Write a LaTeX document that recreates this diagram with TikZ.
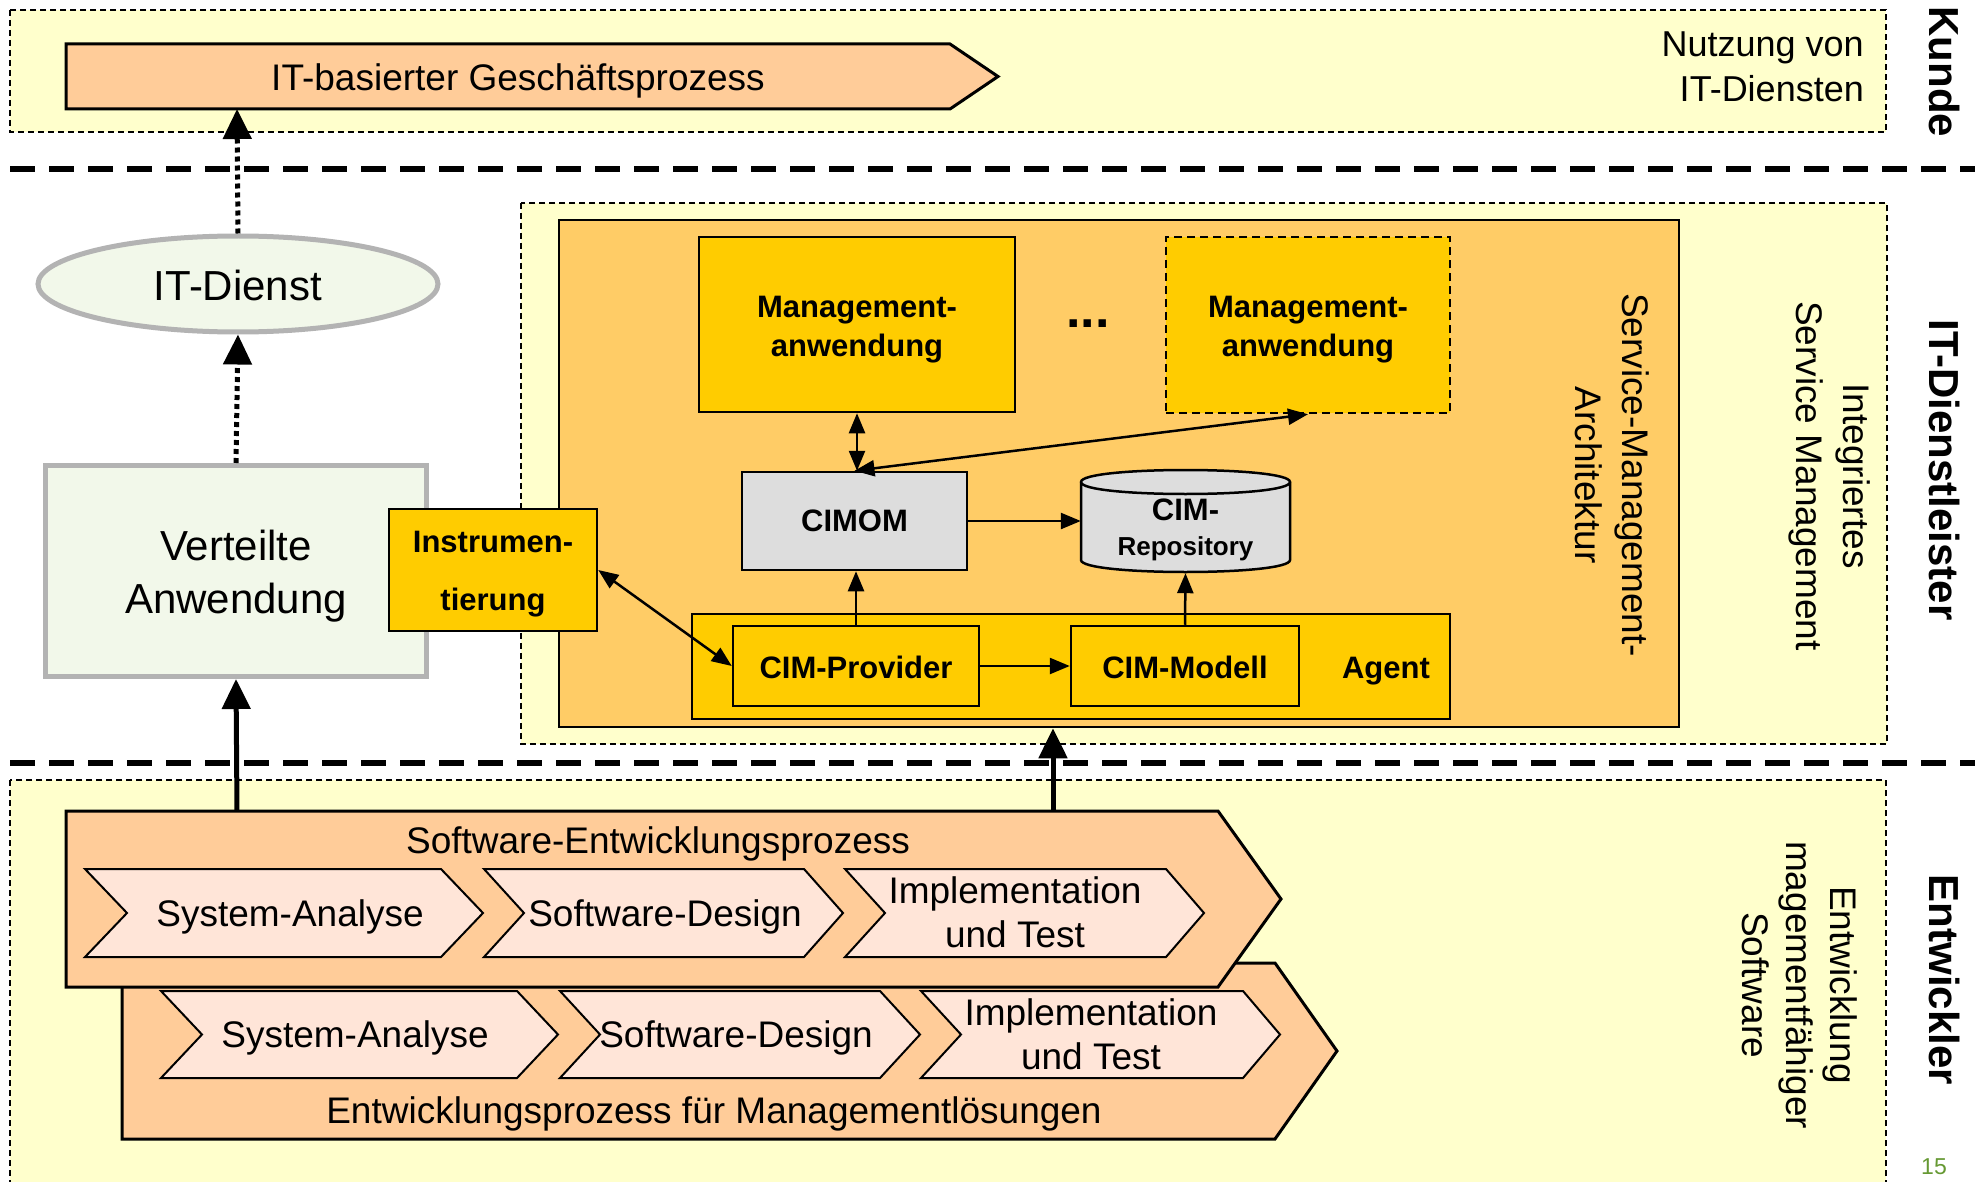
\documentclass[tikz,border=0pt]{standalone}
\usepackage{fontspec}
\setmainfont{Liberation Sans}
\usetikzlibrary{arrows.meta,shapes.geometric}
\definecolor{bandyellow}{HTML}{FFFFCC}
\definecolor{smaorange}{HTML}{FFCC66}
\definecolor{mgmtyellow}{HTML}{FFCC00}
\definecolor{procpeach}{HTML}{FFCC99}
\definecolor{chevpink}{HTML}{FFE5D8}
\definecolor{cimgray}{HTML}{DDDDDD}
\definecolor{lightgreen}{HTML}{F2F8EA}
\definecolor{bordergray}{HTML}{B3B3B3}
\definecolor{pagegreen}{HTML}{669933}
\tikzset{
  band/.style={draw=black, fill=bandyellow, line width=1.5pt, dash pattern=on 6pt off 4pt},
  sepline/.style={draw=black, line width=6pt, dash pattern=on 25pt off 14pt},
  procshape/.style={draw=black, fill=procpeach, line width=3pt},
  chevshape/.style={draw=black, fill=chevpink, line width=2pt},
  rtxt/.style={font=\fontsize{37}{44}\selectfont, inner sep=0pt, align=center},
  sidelabel/.style={font=\bfseries\fontsize{42}{50}\selectfont, inner sep=0pt, rotate=-90},
  boldbox/.style={draw=black, line width=2.5pt, fill=mgmtyellow, font=\bfseries\fontsize{31}{39}\selectfont, align=center, inner sep=0pt},
  boldtxt/.style={font=\bfseries\fontsize{31}{39}\selectfont, align=center, inner sep=0pt},
  greenbox/.style={draw=bordergray, line width=5pt, fill=lightgreen, font=\fontsize{42}{53}\selectfont, align=center, inner sep=0pt},
  bigarrow/.style={draw=black, line width=5pt, -{Triangle[length=30pt,width=28pt]}},
  dotarrow/.style={bigarrow, dash pattern=on 5pt off 4pt},
  smallarrow/.style={draw=black, line width=2.5pt, -{Triangle[length=20pt,width=16pt]}},
  smallboth/.style={draw=black, line width=2.5pt, {Triangle[length=20pt,width=16pt]}-{Triangle[length=20pt,width=16pt]}},
}
\begin{document}
\begin{tikzpicture}[x=1pt,y=-1pt]
\useasboundingbox (0,0) rectangle (1975,1182);
\clip (0,0) rectangle (1975,1182);
\fill[white] (0,0) rectangle (1975,1182);

% bands
\draw[band] (10,10) rectangle (1886,132);
\draw[band] (521,203) rectangle (1887,744);
\draw[band] (10,780) rectangle (1886,1215);

% separators
\draw[sepline] (10,169) -- (1975,169);
\draw[sepline] (10,763) -- (1975,763);

% Kunde
\draw[procshape] (66,44) -- (950,44) -- (998,76.5) -- (950,109) -- (66,109) -- cycle;
\node[rtxt] (gp) at (518,81) {IT-basierter Geschäftsprozess};
\coordinate (gpbot) at (237,109);
\node[rtxt, font=\fontsize{36}{45}\selectfont, anchor=east, align=right] (nutz) at (1864,67) {Nutzung von\\IT-Diensten};
\node[sidelabel] (kunde) at (1944,72) {Kunde};

% IT-Dienstleister
\node[draw=black, line width=2.5pt, fill=smaorange, minimum width=1120pt, minimum height=507pt, inner sep=0pt] (sma) at (1119,473.5) {};
\node[rtxt, rotate=-90, font=\fontsize{37}{47}\selectfont] (smalabel) at (1612,475) {Service-Management-\\Architektur};
\node[rtxt, rotate=-90, font=\fontsize{37}{47}\selectfont] (ism) at (1830,476) {Integriertes\\Service Management};
\node[sidelabel] (itd) at (1944,470) {IT-Dienstleister};

\node[boldbox, minimum width=316pt, minimum height=175pt] (mgmt1) at (857,324.5) {};
\node[boldtxt] (mgmt1t) at (857,330) {Management-\\anwendung};
\node[boldbox, dash pattern=on 8pt off 5pt, minimum width=284pt, minimum height=176pt] (mgmt2) at (1308,325) {};
\node[boldtxt] (mgmt2t) at (1308,330) {Management-\\anwendung};
\node[font=\bfseries\fontsize{52}{52}\selectfont, inner sep=0pt] (dots) at (1088,324) {...};
\node[boldbox, fill=cimgray, minimum width=225pt, minimum height=98pt] (cimom) at (854.5,521) {CIMOM};

% repository cylinder
\fill[cimgray] (1081,482) -- (1081,560) .. controls (1081,576) and (1290,576) .. (1290,560) -- (1290,482) .. controls (1290,466) and (1081,466) .. (1081,482) -- cycle;
\draw[line width=2.5pt] (1081,482) -- (1081,560) .. controls (1081,576) and (1290,576) .. (1290,560) -- (1290,482) .. controls (1290,466) and (1081,466) .. (1081,482) -- cycle;
\draw[line width=2.5pt] (1081,482) .. controls (1081,498) and (1290,498) .. (1290,482);
\node[minimum width=209pt, minimum height=104pt, inner sep=0pt] (repo) at (1185.5,521) {};
\node[font=\bfseries\fontsize{31}{35}\selectfont, align=center, inner sep=0pt] (repolabel) at (1185.5,530) {CIM-\\\fontsize{26}{35}\selectfont Repository};

\node[boldbox, minimum width=758pt, minimum height=105pt] (agent) at (1071,666.5) {};
\node[boldbox, minimum width=246pt, minimum height=80pt] (prov) at (856,666) {};
\node[boldtxt] (provt) at (856,667) {CIM-Provider};
\node[boldbox, minimum width=228pt, minimum height=80pt] (modell) at (1185,666) {};
\node[boldtxt] (modellt) at (1185,667) {CIM-Modell};
\node[boldtxt] (agentlabel) at (1386,671) {Agent};

% left side
\node[greenbox, minimum width=381pt, minimum height=211pt] (vert) at (236,571) {};
\node[greenbox, draw=none, fill=none] (vertt) at (236,576) {Verteilte\\Anwendung};
\node[boldbox, minimum width=208pt, minimum height=122pt] (instr) at (493,570) {};
\node[boldtxt, font=\bfseries\fontsize{31}{58}\selectfont] (instrt) at (493,574) {Instrumen-\\tierung};
\node[greenbox, ellipse, minimum width=400pt, minimum height=96pt] (itdienst) at (238,284) {};
\node[greenbox, draw=none, fill=none] (itdienstt) at (238,285) {IT-Dienst};

% Entwickler
\draw[procshape] (122,963) -- (1275,963) -- (1337,1051) -- (1275,1139) -- (122,1139) -- cycle;
\draw[chevshape] (161,991) -- (517,991) -- (558,1034.5) -- (517,1078) -- (161,1078) -- (202,1034.5) -- cycle;
\draw[chevshape] (560,991) -- (880,991) -- (920,1034.5) -- (880,1078) -- (560,1078) -- (600,1034.5) -- cycle;
\draw[chevshape] (921,991) -- (1243,991) -- (1280,1034.5) -- (1243,1078) -- (921,1078) -- (961,1034.5) -- cycle;
\node[rtxt] (sa2) at (355,1038) {System-Analyse};
\node[rtxt] (sd2) at (736,1038) {Software-Design};
\node[rtxt] (it2) at (1091,1034) {Implementation\\und Test};
\node[rtxt] (mgl) at (714,1114) {Entwicklungsprozess für Managementlösungen};

\draw[procshape] (66,811) -- (1218,811) -- (1281,899) -- (1218,987) -- (66,987) -- cycle;
\draw[chevshape] (85,869) -- (441,869) -- (483,913) -- (441,957) -- (85,957) -- (127,913) -- cycle;
\draw[chevshape] (484,869) -- (804,869) -- (843,913) -- (804,957) -- (484,957) -- (524,913) -- cycle;
\draw[chevshape] (845,869) -- (1166,869) -- (1204,913) -- (1166,957) -- (845,957) -- (885,913) -- cycle;
\node[rtxt] (sa1) at (290,917) {System-Analyse};
\node[rtxt] (sd1) at (665,917) {Software-Design};
\node[rtxt] (it1) at (1015,912) {Implementation\\und Test};
\node[rtxt] (swe) at (658,844) {Software-Entwicklungsprozess};
\coordinate (swetopA) at (237,811);
\coordinate (swetopB) at (1053,811);

\node[rtxt, rotate=-90, font=\fontsize{37}{44}\selectfont] (ems) at (1800,985) {Entwicklung\\magementfähiger\\Software};
\node[sidelabel] (entw) at (1944,980) {Entwickler};
\node[font=\fontsize{23}{28}\selectfont, text=pagegreen, anchor=base, inner sep=0pt] (pnum) at (1934,1174) {15};

% connectors
\draw[dotarrow] (itdienst.north) -- (gpbot);
\draw[dotarrow] (vert.north) -- (itdienst.south);
\draw[bigarrow] (swetopA) -- (vert.south);
\draw[bigarrow] (swetopB) -- (swetopB |- sma.south);

\draw[smallboth] (mgmt1.south) -- (mgmt1.south |- cimom.north);
\draw[smallboth] (cimom.north) -- (mgmt2.south);
\draw[smallarrow] (cimom.east) -- (repo.west);
\draw[smallarrow] (prov.north) -- (prov.north |- cimom.south);
\draw[smallarrow] (modell.north) -- (repo.south);
\draw[smallarrow] (prov.east) -- (modell.west);
\draw[smallboth] (instr.east) -- (prov.west);
\end{tikzpicture}
\end{document}
